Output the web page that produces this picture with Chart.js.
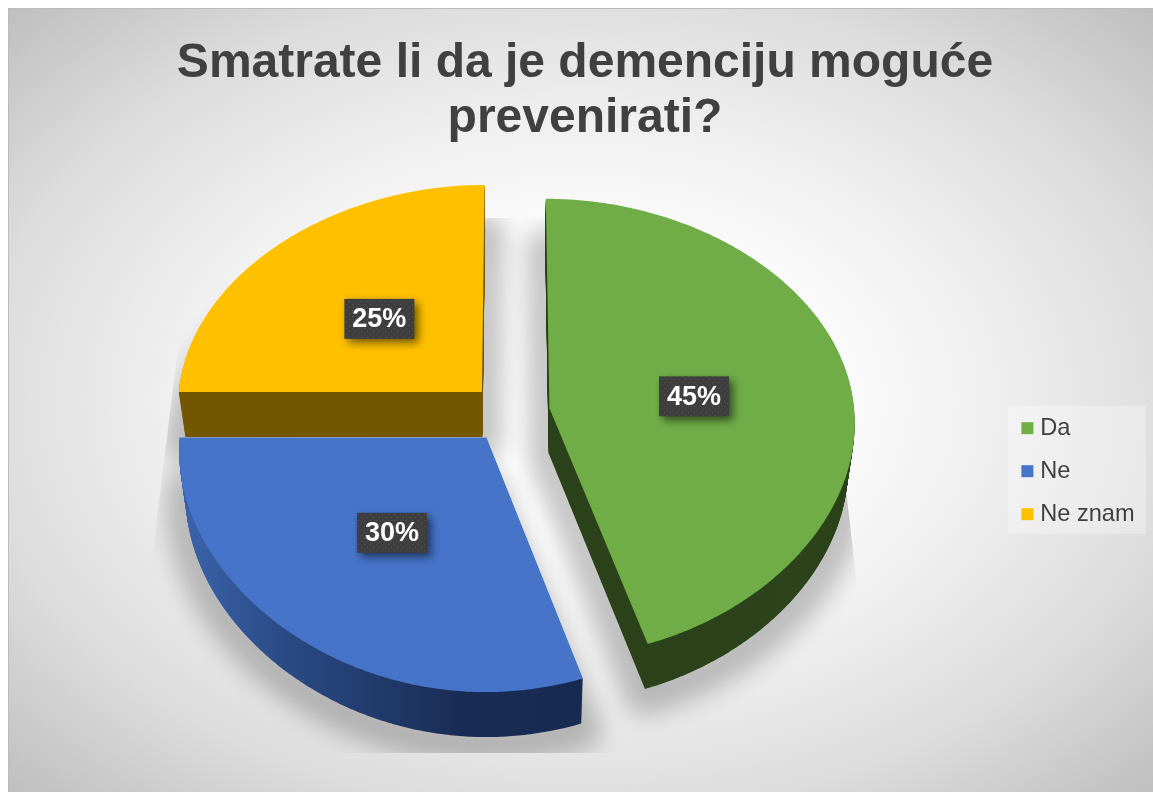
<!DOCTYPE html>
<html lang="en">
<head>
  <meta charset="UTF-8">
  <title>Smatrate li da je demenciju moguće prevenirati?</title>
  <script src="https://cdn.jsdelivr.net/npm/chart.js"></script>
  <style>
    html, body { margin: 0; padding: 0; background: #fff; overflow: hidden; }
    .frame { position: relative; width: 1153px; height: 792px; }
    .plate {
      position: absolute; left: 8px; top: 8px; right: 0; bottom: 0;
      background: radial-gradient(ellipse farthest-corner at 50% 50%, #fff 25%, #f0f0f0 50%, #dcdcdc 75%, #bfbfbf 100%);
      border-left: 1px solid #bbb; border-top: 1px solid #bbb; box-sizing: border-box;
    }
    canvas { position: absolute; left: 0; top: 0; }
  </style>
</head>
<body>

<div class="frame">
  <div class="plate"></div>
  <canvas id="pieChart" width="1153" height="792"></canvas>
</div>

<script>
  const titleLines = ["Smatrate li da je demenciju moguće", "prevenirati?"];
  const categories = ["Da", "Ne", "Ne znam"];
  const shares = [45, 30, 25];
  const topColors = ['#70ad47', '#4574c9', '#ffc000'];

  // the look of the tilted pie, measured on the picture
  const TILT_RY = 228.3, PERSPECTIVE_Y = 0.086, DEPTH = 45, DEPTH_SHRINK = 0.02;
  const LABEL_NUDGE = [[1, 5], [-6, 2], [-3, 1]];

  // circle coordinates around the pie centre -> tilted picture coordinates
  function project(arc, dx, dy, t) {
    const v = dy / arc.outerRadius;
    const sx = 1 + 0.06 * v - 0.03 * v * v;
    const sy = 1 / (1 - PERSPECTIVE_Y * v);
    const shrink = 1 - DEPTH_SHRINK * t / DEPTH;
    return [arc.x + dx * sx * shrink, arc.y + TILT_RY * v * sy + t];
  }

  function slicePath(ctx, arc, t) {
    const mid = (arc.startAngle + arc.endAngle) / 2;
    const off = arc.options.offset;
    const ox = Math.cos(mid) * off, oy = Math.sin(mid) * off;
    ctx.beginPath();
    ctx.moveTo(...project(arc, ox, oy, t));
    for (let a = arc.startAngle; a < arc.endAngle; a += 0.01) {
      ctx.lineTo(...project(arc, ox + Math.cos(a) * arc.outerRadius, oy + Math.sin(a) * arc.outerRadius, t));
    }
    ctx.lineTo(...project(arc, ox + Math.cos(arc.endAngle) * arc.outerRadius, oy + Math.sin(arc.endAngle) * arc.outerRadius, t));
    ctx.closePath();
  }

  function sideFill(ctx, index) {
    if (index === 0) return '#2c431b';
    if (index === 2) return '#735700';
    const g = ctx.createLinearGradient(180, 0, 581, 0);
    g.addColorStop(0, '#3c64ac');
    g.addColorStop(0.25, '#2b4b86');
    g.addColorStop(0.7, '#192c55');
    g.addColorStop(1, '#172a50');
    return g;
  }

  const tiltedPie = {
    id: 'tiltedPie',
    afterLayout(chart) {
      // legend and title do not follow the off-centre pie
      const legend = chart.legend;
      legend.left = 1007; legend.right = 1153;
      legend.top = 397; legend.bottom = 792;
      chart.titleBlock.left = 8; chart.titleBlock.right = 1162;
    },
    beforeDraw(chart) {
      const ctx = chart.ctx;
      ctx.save();
      ctx.fillStyle = 'rgba(255,255,255,0.3)';
      ctx.fillRect(1008, 406, 138, 128);
      ctx.restore();
    },
    beforeDatasetDraw(chart, args) {
      const ctx = chart.ctx;
      const arcs = args.meta.data;

      // ground shadow, cut off by a trapezoid like in the original.
      // the stroke itself sits off canvas, only its wide shadow lands here
      ctx.save();
      ctx.beginPath();
      ctx.moveTo(194, 218);
      ctx.lineTo(815, 218);
      ctx.lineTo(876, 753);
      ctx.lineTo(128, 753);
      ctx.closePath();
      ctx.clip();
      ctx.translate(-3000, 0);
      ctx.shadowColor = 'rgba(0,0,0,0.23)';
      ctx.shadowBlur = 24;
      ctx.shadowOffsetX = 3000;
      ctx.shadowOffsetY = 6;
      ctx.strokeStyle = '#000';
      ctx.lineWidth = 40;
      ctx.lineJoin = 'round';
      [2, 0, 1].forEach(i => {
        slicePath(ctx, arcs[i], DEPTH);
        ctx.stroke();
      });
      ctx.restore();

      // side walls, then the top face of every slice
      [2, 0, 1].forEach(i => {
        ctx.save();
        ctx.fillStyle = sideFill(ctx, i);
        for (let t = DEPTH; t > 0; t--) {
          slicePath(ctx, arcs[i], t);
          ctx.fill();
        }
        slicePath(ctx, arcs[i], 0);
        ctx.fillStyle = arcs[i].options.backgroundColor;
        ctx.fill();
        ctx.restore();
      });
      return false;
    },
    afterDatasetsDraw(chart) {
      const ctx = chart.ctx;
      const arcs = chart.getDatasetMeta(0).data;
      const tile = document.createElement('canvas');
      tile.width = 6; tile.height = 6;
      const tc = tile.getContext('2d');
      tc.fillStyle = '#3e3e3e';
      tc.fillRect(0, 0, 6, 6);
      tc.fillStyle = '#555';
      tc.fillRect(1, 1, 1, 1);
      tc.fillRect(4, 4, 1, 1);
      const pattern = ctx.createPattern(tile, 'repeat');

      arcs.forEach((arc, i) => {
        const mid = (arc.startAngle + arc.endAngle) / 2;
        const r = arc.options.offset + arc.outerRadius * 0.48;
        let [x, y] = project(arc, Math.cos(mid) * r, Math.sin(mid) * r, 0);
        x += LABEL_NUDGE[i][0];
        y += LABEL_NUDGE[i][1];
        ctx.save();
        ctx.shadowColor = 'rgba(0,0,0,0.55)';
        ctx.shadowBlur = 8;
        ctx.shadowOffsetX = 4;
        ctx.shadowOffsetY = 4;
        ctx.fillStyle = pattern;
        ctx.fillRect(x - 35, y - 20, 70, 40);
        ctx.restore();
        ctx.save();
        ctx.font = 'bold 27px "Liberation Sans"';
        ctx.textAlign = 'center';
        ctx.textBaseline = 'middle';
        ctx.fillStyle = '#fff';
        ctx.fillText(shares[i] + '%', x, y + 1);
        ctx.restore();
      });
    }
  };

  new Chart(document.getElementById('pieChart'), {
    type: 'pie',
    data: {
      labels: categories,
      datasets: [{
        data: shares,
        backgroundColor: topColors,
        borderWidth: 0,
        offset: 40
      }]
    },
    options: {
      responsive: false,
      animation: false,
      radius: 305,
      layout: { padding: { left: 150, right: 283, bottom: 117 } },
      plugins: {
        title: {
          display: true,
          text: titleLines,
          color: '#404040',
          font: { family: '"Liberation Sans"', size: 48, weight: 'bold', lineHeight: 1.146 },
          padding: { top: 36, bottom: 5 }
        },
        legend: {
          position: 'chartArea',
          align: 'start',
          labels: {
            usePointStyle: true,
            pointStyle: 'rect',
            boxWidth: 2,
            boxHeight: 12,
            padding: 19.4,
            color: '#404040',
            font: { family: '"Liberation Sans"', size: 23.6 }
          }
        },
        tooltip: { enabled: false }
      }
    },
    plugins: [tiltedPie]
  });
</script>

</body>
</html>
